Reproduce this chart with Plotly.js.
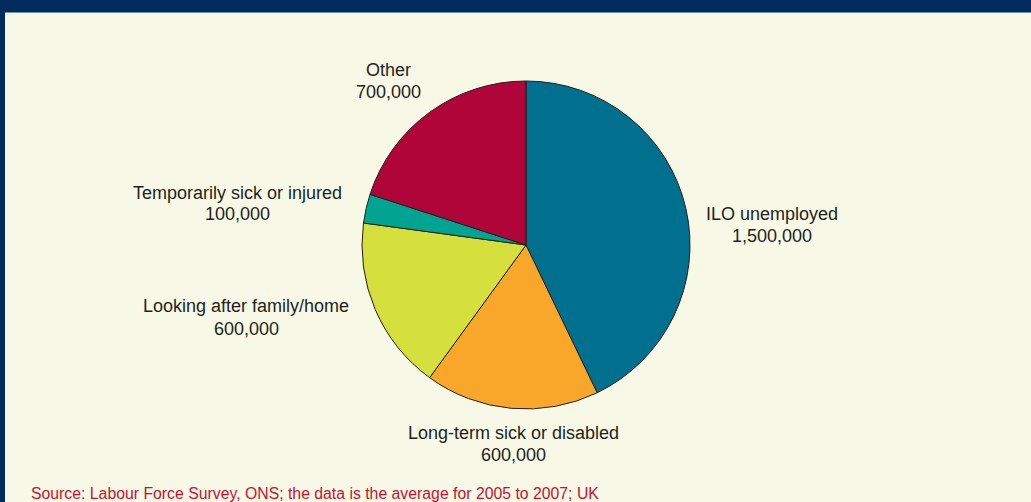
<!DOCTYPE html>
<html>
<head>
<meta charset="utf-8">
<script src="https://cdn.plot.ly/plotly-3.0.1.min.js"></script>
<style>html,body{margin:0;padding:0;background:#f7f9e6;}#chart{width:1031px;height:502px;}</style>
</head>
<body>
<div id="chart"></div>
<script>
const categories = ["ILO unemployed", "Long-term sick or disabled", "Looking after family/home", "Temporarily sick or injured", "Other"];
const values = [1500000, 600000, 600000, 100000, 700000];
const valueLabels = ["1,500,000", "600,000", "600,000", "100,000", "700,000"];
const colors = ["#00708e", "#f9a72b", "#d6e03d", "#00a491", "#b00538"];
const sourceText = "Source: Labour Force Survey, ONS; the data is the average for 2005 to 2007; UK";

// label centre x and the two line centres y, in pixels
const labelPos = [[772, 214, 236], [513, 433, 455], [246, 306, 329], [237, 193, 214], [388, 70, 92]];

const W = 1031, H = 502;
const fnt = {family: "Liberation Sans, Arial, sans-serif", size: 18, color: "#231f20"};
const annotations = [];
categories.forEach((c, i) => {
  [c, valueLabels[i]].forEach((t, j) => {
    annotations.push({
      text: t, x: labelPos[i][0] / W, y: 1 - labelPos[i][1 + j] / H,
      xref: "paper", yref: "paper", xanchor: "center", yanchor: "middle",
      showarrow: false, font: fnt
    });
  });
});
annotations.push({
  text: sourceText, x: 29 / W, y: 1 - 493 / H, xref: "paper", yref: "paper",
  xanchor: "left", yanchor: "middle", showarrow: false,
  font: {family: "Liberation Sans, Arial, sans-serif", size: 15.8, color: "#c8102e"}
});

const cx = 526, cy = 245, r = 164;
const trace = {
  type: "pie",
  labels: categories,
  values: values,
  sort: false,
  direction: "clockwise",
  rotation: 0,
  textinfo: "none",
  hoverinfo: "label+value",
  marker: {colors: colors, line: {color: "#231f20", width: 1}},
  domain: {x: [(cx - r) / W, (cx + r) / W], y: [1 - (cy + r) / H, 1 - (cy - r) / H]},
  showlegend: false
};

const layout = {
  width: W, height: H,
  margin: {l: 0, r: 0, t: 0, b: 0},
  paper_bgcolor: "#f7f9e6",
  plot_bgcolor: "#f7f9e6",
  showlegend: false,
  annotations: annotations,
  shapes: [
    {type: "rect", xref: "paper", yref: "paper", x0: 0, x1: 1, y0: 1 - 12 / H, y1: 1, fillcolor: "#002b5f", line: {width: 0}, layer: "above"},
    {type: "rect", xref: "paper", yref: "paper", x0: 0, x1: 5 / W, y0: 0, y1: 1, fillcolor: "#002b5f", line: {width: 0}, layer: "above"},
    {type: "line", xref: "paper", yref: "paper", x0: 5 / W, x1: 1, y0: 1 - 12.5 / H, y1: 1 - 12.5 / H, line: {color: "#6f8fb5", width: 1}, layer: "above"}
  ]
};

Plotly.newPlot("chart", [trace], layout, {displayModeBar: false, staticPlot: true});
</script>
</body>
</html>
